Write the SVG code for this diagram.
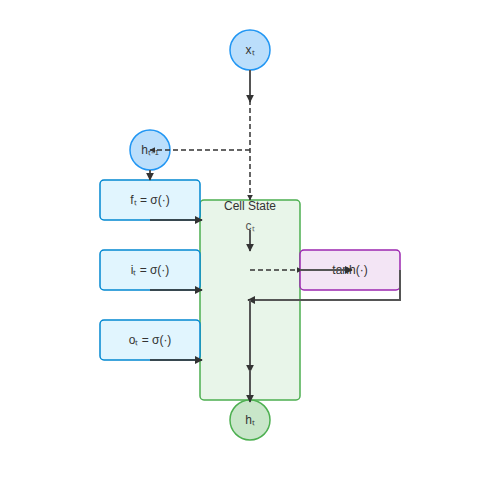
<svg xmlns="http://www.w3.org/2000/svg" width="500" height="500" viewBox="0 0 500 500">
<style>
text{font-family:"Liberation Sans",Arial,sans-serif;font-size:12px;fill:#333;text-anchor:middle;dominant-baseline:central}
.gate{fill:#e1f5fe;stroke:#0288d1;stroke-width:1.5}
.inp{fill:#bbdefb;stroke:#2196f3;stroke-width:1.5}
.cell{fill:#e8f5e9;stroke:#4caf50;stroke-width:1.5}
.tanh{fill:#f3e5f5;stroke:#9c27b0;stroke-width:1.5}
.out{fill:#c8e6c9;stroke:#4caf50;stroke-width:1.5}
.l{fill:none;stroke:#555;stroke-width:2}
.d{fill:none;stroke:#333;stroke-width:1.5;stroke-dasharray:5,3}
.g{fill:none;stroke:#37474f;stroke-width:2}
</style>
<defs>
<marker id="a" viewBox="0 0 10 10" refX="9" refY="5" markerWidth="4" markerHeight="4" orient="auto" markerUnits="strokeWidth"><path d="M0,0L10,5L0,10z" fill="#333"/></marker>
</defs>
<rect width="500" height="500" fill="#fff"/>
<g id="cell"><rect class="cell" x="200" y="200" width="100" height="200" rx="4"/><text x="250" y="206">Cell State</text><text x="250" y="226" style="fill:#555">cₜ</text></g>
<g id="xt"><circle class="inp" cx="250" cy="50" r="20"/><text x="250" y="50">xₜ</text></g>
<g id="ht1"><circle class="inp" cx="150" cy="150" r="20"/><text x="150" y="150">hₜ₋₁</text></g>
<g id="fg"><rect class="gate" x="100" y="180" width="100" height="40" rx="4"/><text x="150" y="200">fₜ = σ(·)</text></g>
<g id="ig"><rect class="gate" x="100" y="250" width="100" height="40" rx="4"/><text x="150" y="270">iₜ = σ(·)</text></g>
<g id="og"><rect class="gate" x="100" y="320" width="100" height="40" rx="4"/><text x="150" y="340">oₜ = σ(·)</text></g>
<g id="tanh"><rect class="tanh" x="300" y="250" width="100" height="40" rx="4"/><text x="350" y="270">tanh(·)</text></g>
<g id="ht"><circle class="out" cx="250" cy="420" r="20"/><text x="250" y="420">hₜ</text></g>
<g id="connectors">
<path class="l" d="M250,70V102" marker-end="url(#a)"/>
<path class="d" d="M250,100V200" marker-end="url(#a)"/>
<path class="d" d="M250,150H150" marker-end="url(#a)"/>
<path class="l" d="M150,170V180" marker-end="url(#a)"/>
<path class="g" d="M150,220H202" marker-end="url(#a)"/>
<path class="g" d="M150,290H202" marker-end="url(#a)"/>
<path class="g" d="M150,360H202" marker-end="url(#a)"/>
<path class="l" d="M250,230V251" marker-end="url(#a)"/>
<path class="d" d="M250,270H302" marker-end="url(#a)"/>
<path class="l" d="M300,270H352" marker-end="url(#a)"/>
<path class="l" d="M400,270V300H248" marker-end="url(#a)"/>
<path class="l" d="M250,300V372" marker-end="url(#a)"/>
<path class="l" d="M250,370V402" marker-end="url(#a)"/>
</g>
</svg>
